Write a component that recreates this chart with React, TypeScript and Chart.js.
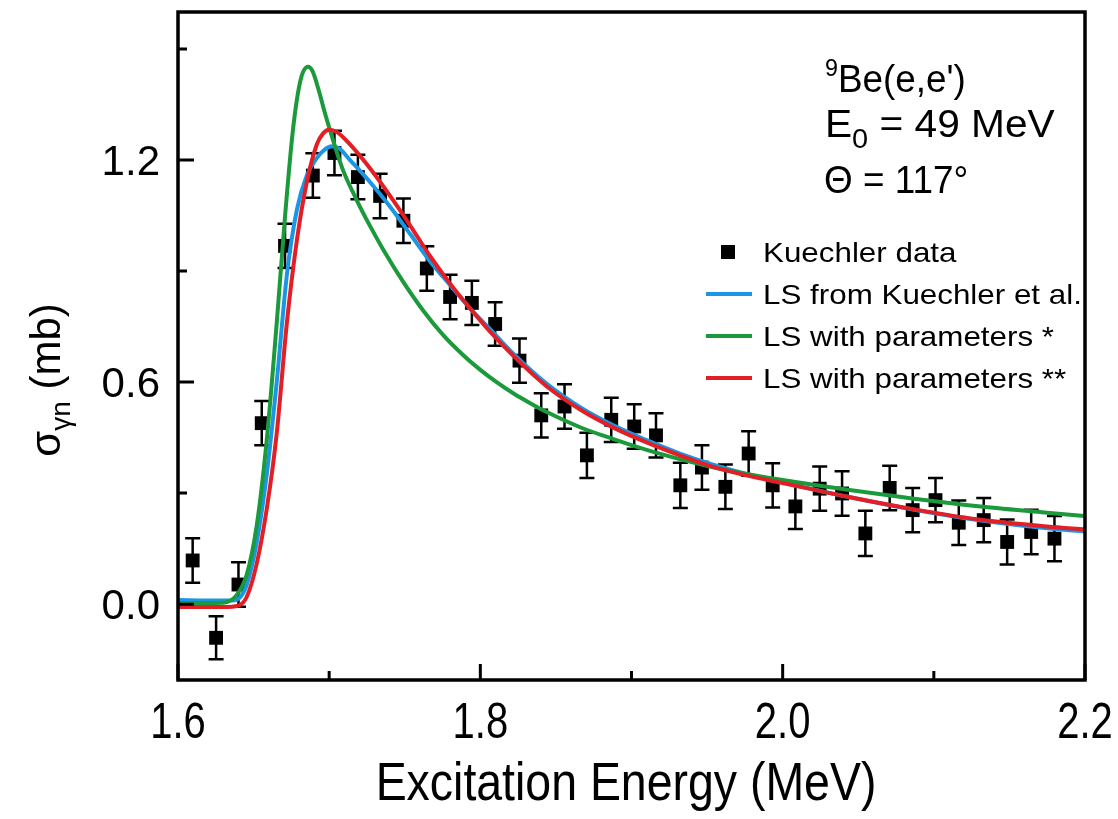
import React, { useEffect, useRef } from 'react';
import { Chart, registerables } from 'chart.js';
Chart.register(...registerables);

const FONT = "'Liberation Sans', Arial, Helvetica, sans-serif";

// Kuechler data points
const dataEnergy = [1.6097, 1.6252, 1.640, 1.6554, 1.6708, 1.6892, 1.7035, 1.719, 1.7337, 1.7491, 1.7646, 1.780, 1.7944, 1.8098, 1.8259, 1.8403, 1.8557, 1.8705, 1.8866, 1.9018, 1.9162, 1.9323, 1.9466, 1.9621, 1.9775, 1.9934, 2.0084, 2.0245, 2.0393, 2.0547, 2.0708, 2.086, 2.1011, 2.1165, 2.133, 2.1485, 2.1644, 2.1798];
const dataSigma = [0.118, -0.091, 0.053, 0.489, 0.968, 1.158, 1.219, 1.154, 1.103, 1.036, 0.907, 0.830, 0.814, 0.757, 0.658, 0.510, 0.534, 0.402, 0.498, 0.480, 0.456, 0.321, 0.369, 0.317, 0.407, 0.321, 0.264, 0.312, 0.299, 0.191, 0.314, 0.254, 0.281, 0.220, 0.227, 0.168, 0.195, 0.177];
const dataError = [0.060, 0.058, 0.060, 0.060, 0.060, 0.060, 0.060, 0.060, 0.060, 0.060, 0.060, 0.060, 0.060, 0.059, 0.060, 0.060, 0.060, 0.061, 0.060, 0.060, 0.060, 0.061, 0.060, 0.060, 0.060, 0.060, 0.061, 0.060, 0.060, 0.061, 0.060, 0.060, 0.060, 0.060, 0.060, 0.061, 0.060, 0.061];

// LS from Kuechler et al.
const blueE = [1.600, 1.620, 1.636, 1.641, 1.6455, 1.652, 1.6587, 1.6653, 1.672, 1.6786, 1.6852, 1.6918, 1.6970, 1.7017, 1.7070, 1.7138, 1.7271, 1.7403, 1.7536, 1.7668, 1.780, 1.793, 1.806, 1.822, 1.844, 1.866, 1.888, 1.910, 1.932, 1.954, 1.976, 1.999, 2.043, 2.087, 2.131, 2.175, 2.200];
const blueS = [0.011, 0.010, 0.010, 0.018, 0.053, 0.165, 0.350, 0.600, 0.889, 1.065, 1.158, 1.205, 1.228, 1.237, 1.230, 1.200, 1.140, 1.074, 1.000, 0.926, 0.862, 0.800, 0.745, 0.676, 0.595, 0.532, 0.483, 0.443, 0.407, 0.377, 0.352, 0.330, 0.290, 0.255, 0.226, 0.205, 0.196];

// LS with parameters *
const greenE = [1.600, 1.630, 1.6389, 1.6455, 1.652, 1.6587, 1.6653, 1.6708, 1.676, 1.681, 1.686, 1.689, 1.693, 1.697, 1.7006, 1.705, 1.7094, 1.7182, 1.727, 1.7359, 1.7491, 1.7624, 1.7756, 1.7889, 1.800, 1.811, 1.822, 1.833, 1.844, 1.866, 1.888, 1.910, 1.932, 1.954, 1.976, 1.999, 2.043, 2.087, 2.131, 2.175, 2.200];
const greenS = [0.003, 0.004, 0.025, 0.080, 0.210, 0.443, 0.759, 1.047, 1.280, 1.415, 1.452, 1.440, 1.390, 1.330, 1.280, 1.222, 1.170, 1.092, 1.022, 0.957, 0.870, 0.792, 0.726, 0.672, 0.633, 0.599, 0.569, 0.543, 0.519, 0.478, 0.446, 0.417, 0.392, 0.370, 0.352, 0.336, 0.309, 0.285, 0.264, 0.247, 0.238];

// LS with parameters **
const redE = [1.600, 1.630, 1.640, 1.6455, 1.652, 1.6587, 1.6653, 1.672, 1.6786, 1.6852, 1.6918, 1.6960, 1.7000, 1.7050, 1.7138, 1.7271, 1.7403, 1.7536, 1.7668, 1.780, 1.793, 1.806, 1.822, 1.844, 1.866, 1.888, 1.910, 1.932, 1.954, 1.976, 1.999, 2.043, 2.087, 2.131, 2.175, 2.200];
const redS = [-0.008, -0.008, -0.004, 0.020, 0.108, 0.257, 0.461, 0.759, 0.982, 1.140, 1.242, 1.272, 1.282, 1.276, 1.242, 1.177, 1.103, 1.023, 0.940, 0.866, 0.800, 0.738, 0.670, 0.588, 0.526, 0.477, 0.437, 0.402, 0.371, 0.348, 0.328, 0.290, 0.256, 0.228, 0.210, 0.202];

const xMajorTicks = [1.6, 1.8, 2.0, 2.2];
const xMinorTicks = [1.7, 1.9, 2.1];
const xTickLabels = ['1.6', '1.8', '2.0', '2.2'];
const yMajorTicks = [0, 0.6, 1.2];
const yMinorTicks = [0.3, 0.9, 1.5];
const yTickLabels = ['0.0', '0.6', '1.2'];

const legendLabels = ['Kuechler data', 'LS from Kuechler et al.', 'LS with parameters *', 'LS with parameters **'];
const BLUE = '#1b96e4';
const GREEN = '#1a9a3a';
const RED = '#e31e24';

type Seg = { t: string; size: number; dy?: number };

function drawSegs(ctx: CanvasRenderingContext2D, segs: Seg[], x: number, y: number, sx = 1, align: 'left' | 'center' = 'left') {
  ctx.save();
  let total = 0;
  for (const s of segs) {
    ctx.font = `${s.size}px ${FONT}`;
    total += ctx.measureText(s.t).width * sx;
  }
  let cx = align === 'center' ? x - total / 2 : x;
  ctx.textAlign = 'left';
  ctx.textBaseline = 'alphabetic';
  for (const s of segs) {
    ctx.font = `${s.size}px ${FONT}`;
    ctx.save();
    ctx.translate(cx, y + (s.dy || 0));
    ctx.scale(sx, 1);
    ctx.fillText(s.t, 0, 0);
    ctx.restore();
    cx += ctx.measureText(s.t).width * sx;
  }
  ctx.restore();
}

function drawText(ctx: CanvasRenderingContext2D, t: string, x: number, y: number, size: number, align: CanvasTextAlign, sx = 1) {
  ctx.save();
  ctx.font = `${size}px ${FONT}`;
  ctx.textAlign = align;
  ctx.textBaseline = 'alphabetic';
  ctx.translate(x, y);
  ctx.scale(sx, 1);
  ctx.fillText(t, 0, 0);
  ctx.restore();
}

const customPlugin = {
  id: 'customDraw',
  beforeDatasetsDraw(chart: any) {
    const ctx = chart.ctx as CanvasRenderingContext2D;
    const xs = chart.scales.x;
    const ys = chart.scales.y;
    ctx.save();
    ctx.strokeStyle = '#000';
    ctx.lineWidth = 2.5;
    for (let i = 0; i < dataEnergy.length; i++) {
      const px = xs.getPixelForValue(dataEnergy[i]);
      const top = ys.getPixelForValue(dataSigma[i] + dataError[i]);
      const bot = ys.getPixelForValue(dataSigma[i] - dataError[i]);
      ctx.beginPath();
      ctx.moveTo(px, top);
      ctx.lineTo(px, bot);
      ctx.moveTo(px - 7.5, top);
      ctx.lineTo(px + 7.5, top);
      ctx.moveTo(px - 7.5, bot);
      ctx.lineTo(px + 7.5, bot);
      ctx.stroke();
    }
    ctx.restore();
  },
  afterDraw(chart: any) {
    const ctx = chart.ctx as CanvasRenderingContext2D;
    const a = chart.chartArea;
    const xs = chart.scales.x;
    const ys = chart.scales.y;
    ctx.save();
    ctx.fillStyle = '#000';
    ctx.strokeStyle = '#000';
    // frame
    ctx.lineWidth = 3.5;
    ctx.strokeRect(a.left, a.top, a.right - a.left, a.bottom - a.top);
    // ticks (inward)
    ctx.lineWidth = 3;
    ctx.beginPath();
    xMajorTicks.forEach((v) => { const p = xs.getPixelForValue(v); ctx.moveTo(p, a.bottom); ctx.lineTo(p, a.bottom - 16); });
    xMinorTicks.forEach((v) => { const p = xs.getPixelForValue(v); ctx.moveTo(p, a.bottom); ctx.lineTo(p, a.bottom - 9); });
    yMajorTicks.forEach((v) => { const p = ys.getPixelForValue(v); ctx.moveTo(a.left, p); ctx.lineTo(a.left + 16, p); });
    yMinorTicks.forEach((v) => { const p = ys.getPixelForValue(v); ctx.moveTo(a.left, p); ctx.lineTo(a.left + 9, p); });
    ctx.stroke();
    // tick labels
    xMajorTicks.forEach((v, i) => drawText(ctx, xTickLabels[i], xs.getPixelForValue(v), 738, 50, 'center', 0.8));
    yMajorTicks.forEach((v, i) => drawText(ctx, yTickLabels[i], 160, ys.getPixelForValue(v) + 15, 42, 'right', 1));
    // x title
    drawText(ctx, 'Excitation Energy (MeV)', 626, 800, 54, 'center', 0.86);
    // y title (rotated)
    ctx.save();
    ctx.translate(60, 380);
    ctx.rotate(-Math.PI / 2);
    drawSegs(ctx, [
      { t: 'σ', size: 42 },
      { t: 'γn', size: 28, dy: 10 },
      { t: ' (mb)', size: 42 },
    ], 0, 0, 1, 'center');
    ctx.restore();
    // annotation
    drawSegs(ctx, [{ t: '9', size: 24, dy: -16 }, { t: "Be(e,e')", size: 38 }], 825, 92, 0.97);
    drawSegs(ctx, [{ t: 'E', size: 38 }, { t: '0', size: 27, dy: 11 }, { t: ' = 49 MeV', size: 38 }], 825, 137, 1.07);
    drawSegs(ctx, [{ t: 'Θ = 117°', size: 38 }], 824, 193, 0.97);
    // legend
    const rows = [252, 294, 336, 378];
    const colors = ['#000', BLUE, GREEN, RED];
    rows.forEach((ry, i) => {
      if (i === 0) {
        ctx.fillStyle = '#000';
        ctx.fillRect(721, ry - 7, 14, 14);
      } else {
        ctx.strokeStyle = colors[i];
        ctx.lineWidth = 4;
        ctx.beginPath();
        ctx.moveTo(706, ry);
        ctx.lineTo(752, ry);
        ctx.stroke();
      }
      ctx.fillStyle = '#000';
      drawText(ctx, legendLabels[i], 763, ry + 10, 28.5, 'left', 1.1);
    });
    ctx.restore();
  },
};

function line(label: string, xs: number[], ys: number[], color: string, order: number) {
  return {
    type: 'line' as const,
    label,
    data: xs.map((x, i) => ({ x, y: ys[i] })),
    borderColor: color,
    backgroundColor: color,
    borderWidth: 4,
    pointRadius: 0,
    fill: false,
    cubicInterpolationMode: 'monotone' as const,
    order,
  };
}

export default function App() {
  const ref = useRef<HTMLCanvasElement>(null);
  useEffect(() => {
    document.body.style.margin = '0';
    const chart = new Chart(ref.current as HTMLCanvasElement, {
      type: 'scatter',
      data: {
        datasets: [
          {
            type: 'scatter',
            label: legendLabels[0],
            data: dataEnergy.map((x, i) => ({ x, y: dataSigma[i] })),
            pointStyle: 'rect',
            pointRadius: 9.8,
            backgroundColor: '#000',
            borderColor: '#000',
            borderWidth: 0,
            order: 10,
          } as any,
          line(legendLabels[1], blueE, blueS, BLUE, 3),
          line(legendLabels[2], greenE, greenS, GREEN, 2),
          line(legendLabels[3], redE, redS, RED, 1),
        ],
      },
      options: {
        animation: false,
        responsive: false,
        devicePixelRatio: 1,
        layout: { padding: { top: 12, right: 33, left: 0, bottom: 0 } },
        plugins: { legend: { display: false }, tooltip: { enabled: false }, title: { display: false } },
        scales: {
          x: {
            type: 'linear',
            min: 1.6,
            max: 2.2,
            grid: { display: false },
            border: { display: false },
            ticks: { display: false },
            afterBuildTicks: (s: any) => { s.ticks = xMajorTicks.map((v) => ({ value: v })); },
            afterFit: (s: any) => { s.height = 139; },
          },
          y: {
            type: 'linear',
            min: -0.205,
            max: 1.6,
            grid: { display: false },
            border: { display: false },
            ticks: { display: false },
            afterBuildTicks: (s: any) => { s.ticks = yMajorTicks.map((v) => ({ value: v })); },
            afterFit: (s: any) => { s.width = 178; },
          },
        },
      } as any,
      plugins: [customPlugin],
    });
    return () => chart.destroy();
  }, []);
  return (
    <div style={{ width: 1118, height: 819 }}>
      <canvas ref={ref} width={1118} height={819} style={{ display: 'block' }} />
    </div>
  );
}
